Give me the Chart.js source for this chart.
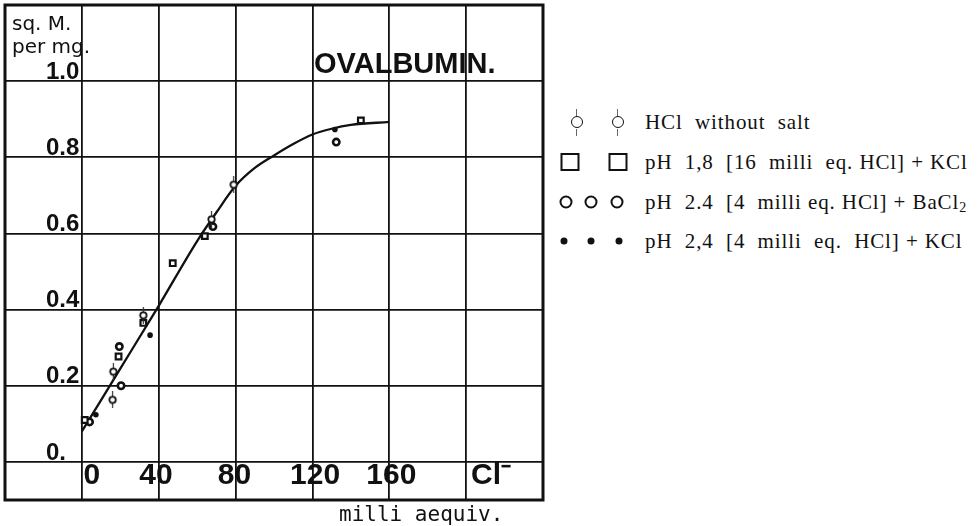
<!DOCTYPE html>
<html>
<head>
<meta charset="utf-8">
<script src="https://cdn.jsdelivr.net/npm/chart.js@4.4.1/dist/chart.umd.min.js"></script>
<style>
  html, body { margin: 0; padding: 0; background: #fff; }
  body { width: 978px; height: 526px; position: relative; overflow: hidden; }
  #wrap { position: absolute; left: 0; top: 0; width: 548px; height: 526px; }
  .row {
    position: absolute; left: 645px; height: 24px; line-height: 24px;
    margin-top: -12px; white-space: pre; color: #111;
    font-family: 'Liberation Serif', serif; font-size: 21px; letter-spacing: 0.9px;
  }
  .row sub { font-size: 14px; vertical-align: -3px; line-height: 0; }
  .mk { position: absolute; box-sizing: border-box; transform: translate(-50%, -50%); }
  .mk.phi { width: 12px; height: 12px; border: 1.6px solid #111; border-radius: 50%; background: #fff; }
  .mk.phi::before, .mk.phi::after {
    content: ''; position: absolute; left: 4.2px; width: 1.2px; height: 7px; background: #666;
  }
  .mk.phi::before { top: -8.5px; }
  .mk.phi::after { bottom: -8.5px; }
  .mk.sq { width: 19px; height: 18px; border: 2px solid #111; }
  .mk.ring { width: 13px; height: 13px; border: 2px solid #111; border-radius: 50%; }
  .mk.dot { width: 7px; height: 7px; background: #111; border-radius: 50%; }
</style>
</head>
<body>
<div id="wrap"><canvas id="ovalbuminChart"></canvas></div>
<script>
// smooth curve
const curveX = [0, 20, 40, 60, 70, 80, 90, 100, 110, 120, 130, 140, 160];
const curveY = [0.08, 0.245, 0.41, 0.58, 0.655, 0.725, 0.772, 0.805, 0.835, 0.86, 0.875, 0.885, 0.893];

// measured points, one pair of arrays per series
const hclX = [16, 16.4, 32, 67.5, 79];
const hclY = [0.163, 0.237, 0.385, 0.637, 0.728];
const kcl18X = [1.5, 19.1, 32, 47.3, 64, 145.2];
const kcl18Y = [0.11, 0.277, 0.365, 0.522, 0.593, 0.897];
const bacl2X = [4, 19.5, 20.4, 68.2, 132.4];
const bacl2Y = [0.105, 0.303, 0.2, 0.618, 0.84];
const kcl24X = [7.3, 35.5, 131.7];
const kcl24Y = [0.124, 0.333, 0.873];

// axis ticks
const xGridTicks = [-40, 0, 40, 80, 120, 160, 200, 240];
const xTickPos = [5.2, 38.6, 79.4, 121.4, 161.1, 213];
const xTickText = ['0', '40', '80', '120', '160', 'Cl\u207B'];
const yTicks = [0, 0.2, 0.4, 0.6, 0.8, 1.0];
const yTickText = ['0.', '0.2', '0.4', '0.6', '0.8', '1.0'];

const legendItems = [
  { text: 'HCl  without  salt', kind: 'phi', xs: [577, 618], y: 122 },
  { text: 'pH  1,8  [16  milli  eq. HCl] + KCl', kind: 'sq', xs: [570, 618], y: 162 },
  { text: 'pH  2.4  [4  milli eq. HCl] + BaCl<sub>2</sub>', kind: 'ring', xs: [566, 591, 617], y: 202 },
  { text: 'pH  2,4  [4  milli  eq.  HCl] + KCl', kind: 'dot', xs: [564, 591, 619], y: 241 },
];

function toPoints(xs, ys) {
  return xs.map((x, i) => ({ x: x, y: ys[i] }));
}

// circle with small stems, used for "HCl without salt"
function phiMarker() {
  const c = document.createElement('canvas');
  c.width = 11;
  c.height = 17;
  const g = c.getContext('2d');
  g.strokeStyle = '#333';
  g.lineWidth = 1.2;
  g.beginPath();
  g.moveTo(5.5, 0); g.lineTo(5.5, 5);
  g.moveTo(5.5, 12); g.lineTo(5.5, 17);
  g.stroke();
  g.strokeStyle = '#111';
  g.lineWidth = 1.8;
  g.fillStyle = '#fff';
  g.beginPath();
  g.arc(5.5, 8.5, 3.2, 0, Math.PI * 2);
  g.fill();
  g.stroke();
  return c;
}

// scales sit inside the frame, so they must not push the plot area around
function noPadding(axis) {
  axis.paddingTop = 0;
  axis.paddingBottom = 0;
  axis.paddingLeft = 0;
  axis.paddingRight = 0;
}

const framePlugin = {
  id: 'frame',
  afterDatasetsDraw(chart) {
    const { ctx, chartArea: a } = chart;
    ctx.save();
    ctx.strokeStyle = '#111';
    ctx.lineWidth = 3;
    ctx.strokeRect(a.left, a.top, a.right - a.left, a.bottom - a.top);
    ctx.restore();
  },
  afterDraw(chart) {
    const ctx = chart.ctx;
    ctx.save();
    ctx.fillStyle = '#111';
    ctx.textAlign = 'left';
    ctx.textBaseline = 'alphabetic';
    ctx.font = '20px "DejaVu Sans"';
    ctx.fillText('sq. M.', 12, 30);
    ctx.fillText('per mg.', 12, 53);
    ctx.font = 'bold 29px "Liberation Sans"';
    ctx.fillText('OVALBUMIN.', 314, 73);
    ctx.font = '21px "DejaVu Sans Mono"';
    ctx.fillText('milli aequiv.', 339, 521);
    ctx.restore();
  },
};

const ctx = document.getElementById('ovalbuminChart').getContext('2d');
const chart = new Chart(ctx, {
  type: 'scatter',
  data: {
    datasets: [
      {
        label: 'curve',
        data: toPoints(curveX, curveY),
        showLine: true,
        borderColor: '#111',
        borderWidth: 2.3,
        cubicInterpolationMode: 'monotone',
        pointRadius: 0,
        order: 5,
      },
      {
        label: 'HCl without salt',
        data: toPoints(hclX, hclY),
        pointStyle: phiMarker(),
        order: 1,
      },
      {
        label: 'pH 1,8 [16 milli eq. HCl] + KCl',
        data: toPoints(kcl18X, kcl18Y),
        pointStyle: 'rect',
        pointRadius: 4,
        borderWidth: 2.2,
        borderColor: '#111',
        backgroundColor: '#fff',
        order: 1,
      },
      {
        label: 'pH 2.4 [4 milli eq. HCl] + BaCl2',
        data: toPoints(bacl2X, bacl2Y),
        pointStyle: 'circle',
        pointRadius: 3.2,
        borderWidth: 2.6,
        borderColor: '#111',
        backgroundColor: '#fff',
        order: 1,
      },
      {
        label: 'pH 2,4 [4 milli eq. HCl] + KCl',
        data: toPoints(kcl24X, kcl24Y),
        pointStyle: 'circle',
        pointRadius: 2.8,
        borderWidth: 0,
        backgroundColor: '#111',
        order: 1,
      },
    ],
  },
  options: {
    responsive: true,
    maintainAspectRatio: false,
    animation: false,
    layout: { autoPadding: false, padding: { left: 5, top: 5, right: 5, bottom: 0 } },
    plugins: {
      legend: { display: false },
      tooltip: { enabled: false },
    },
    scales: {
      x: {
        type: 'linear',
        position: 'bottom',
        min: -40,
        max: 240,
        afterBuildTicks: (axis) => { axis.ticks = xGridTicks.map((v) => ({ value: v })); },
        afterFit: (axis) => { axis.height = 0; noPadding(axis); },
        ticks: { display: false },
        grid: { color: '#111', lineWidth: 1.8, drawTicks: false },
        border: { display: false },
      },
      x2: {
        type: 'linear',
        position: 'bottom',
        min: -40,
        max: 240,
        afterBuildTicks: (axis) => { axis.ticks = xTickPos.map((v) => ({ value: v })); },
        afterFit: (axis) => { axis.height = 26; noPadding(axis); },
        ticks: {
          mirror: true,
          padding: 6,
          autoSkip: false,
          maxRotation: 0,
          minRotation: 0,
          color: '#111',
          font: { family: 'Liberation Sans', size: 30, weight: 'bold' },
          callback: (value, index) => xTickText[index],
        },
        grid: { display: false, drawTicks: false },
        border: { display: false },
      },
      y: {
        type: 'linear',
        position: 'left',
        min: -0.1,
        max: 1.2,
        afterBuildTicks: (axis) => { axis.ticks = yTicks.map((v) => ({ value: v })); },
        afterFit: (axis) => { axis.width = 0; noPadding(axis); },
        ticks: {
          mirror: true,
          padding: 41,
          labelOffset: -9,
          color: '#111',
          font: { family: 'Liberation Sans', size: 24, weight: 'bold' },
          callback: (value, index) => yTickText[index],
        },
        grid: { color: '#111', lineWidth: 1.8, drawTicks: false },
        border: { display: false },
      },
    },
  },
  plugins: [framePlugin],
});

// legend to the right of the frame
legendItems.forEach((item) => {
  item.xs.forEach((x) => {
    const m = document.createElement('div');
    m.className = 'mk ' + item.kind;
    m.style.left = x + 'px';
    m.style.top = item.y + 'px';
    document.body.appendChild(m);
  });
  const row = document.createElement('div');
  row.className = 'row';
  row.style.top = item.y + 'px';
  row.innerHTML = item.text;
  document.body.appendChild(row);
});
</script>
</body>
</html>
